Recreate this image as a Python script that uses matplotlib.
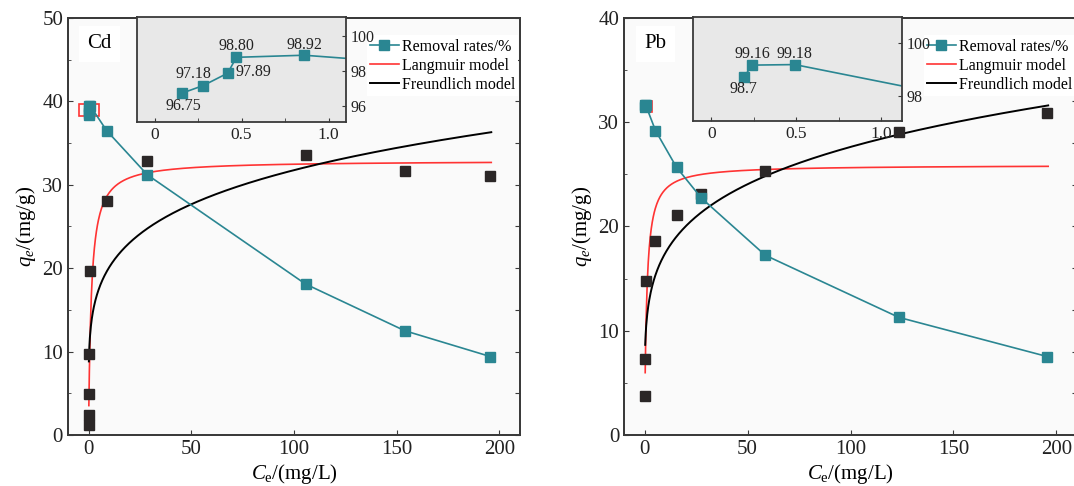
import numpy as np
import matplotlib.pyplot as plt
from matplotlib.patches import Rectangle
from matplotlib.ticker import MultipleLocator

plt.rcParams['font.family'] = ['Liberation Serif', 'DejaVu Serif']
plt.rcParams['mathtext.fontset'] = 'custom'
plt.rcParams['mathtext.rm'] = 'Liberation Serif'
plt.rcParams['mathtext.it'] = 'Liberation Serif:italic'

teal = '#2a8692'
red = '#ff3333'
dark = '#2b2727'
spine_c = '#3a3a3a'

# ---- Cd ----
cd_ce = [0.16, 0.28, 0.42, 0.47, 0.86, 8.8, 28.6, 105.6, 153.9, 195.6]
cd_qe = [1.2, 2.4, 4.9, 9.7, 19.7, 28.0, 32.9, 33.6, 31.6, 31.1]
cd_rate = [96.75, 97.18, 97.89, 98.80, 98.92, 93.0, 82.4, 56.2, 45.0, 38.8]
cd_lang = (32.9, 0.75)    # qm, KL
cd_freu = (12.7, 0.199)   # KF, 1/n
cd_tags = ['96.75', '97.18', '97.89', '98.80', '98.92']

# ---- Pb ----
pb_ce = [0.19, 0.24, 0.49, 5.3, 15.5, 27.6, 58.6, 123.5, 195.6]
pb_qe = [3.7, 7.3, 14.8, 18.6, 21.1, 23.1, 25.3, 29.1, 30.9]
pb_rate = [98.7, 99.16, 99.18, 93.0, 84.2, 76.8, 63.1, 48.2, 38.8]
pb_lang = (25.9, 1.0)
pb_freu = (11.0, 0.2)
pb_tags = ['98.7', '99.16', '99.18']


def style(a, size=15):
    for s in a.spines.values():
        s.set_color(spine_c)
        s.set_linewidth(1.3)
    a.tick_params(direction='in', which='both', labelsize=size, colors=spine_c,
                  labelcolor='#222222')


def panel(rect, inset_rect, ce, qe, rate, lang, freu, tags, offs, ymax, cmin,
          name, box, in_xlim, in_ylim, in_yticks):
    ax = fig.add_axes(rect)
    ax.set_facecolor('#fafafa')
    x = np.linspace(cmin, 196, 800)
    qm, kl = lang
    kf, n1 = freu
    l1, = ax.plot(x, qm * kl * x / (1 + kl * x), color=red, lw=1.2,
                  label='Langmuir model')
    l2, = ax.plot(x, kf * x ** n1, color='black', lw=1.4,
                  label='Freundlich model')
    ax.plot(ce, qe, 's', color=dark, ms=7, ls='none')
    ax.set_xlim(-10, 210)
    ax.set_ylim(0, ymax)
    ax.xaxis.set_major_locator(MultipleLocator(50))
    ax.yaxis.set_major_locator(MultipleLocator(10))
    ax.yaxis.set_minor_locator(MultipleLocator(5))
    ax.set_xlabel(r'$C_{\rm e}$/(mg/L)', fontsize=15, labelpad=2)
    ax.set_ylabel(r'$q_e$/(mg/g)', fontsize=15, labelpad=3)
    style(ax)
    ax.text(0.069, 0.938, name, transform=ax.transAxes, fontsize=15,
            ha='center', va='center',
            bbox=dict(facecolor='white', edgecolor='none', pad=6))
    ax.add_patch(Rectangle(box[:2], box[2], box[3], fill=False,
                           edgecolor=red, lw=1.2, zorder=10))

    tw = ax.twinx()
    l0, = tw.plot(ce, rate, '-s', color=teal, lw=1.2, ms=6.5,
                  label='Removal rates/%')
    tw.set_ylim(20, 120)
    tw.yaxis.set_major_locator(MultipleLocator(10))
    style(tw)
    tw.tick_params(labelright=False)
    tw.legend(handles=[l0, l1, l2], loc='upper right',
              bbox_to_anchor=(1.0, 0.962), fontsize=11.5, frameon=True,
              fancybox=False, edgecolor='none', facecolor='white',
              framealpha=1, handlelength=1.8, handletextpad=0.2,
              borderpad=0.2, labelspacing=0.2, borderaxespad=0.1)

    ins = fig.add_axes(inset_rect)
    ins.set_facecolor('#e8e8e8')
    ins.plot(ce, rate, '-s', color=teal, lw=1.2, ms=6.5)
    ins.set_xlim(*in_xlim)
    ins.set_ylim(*in_ylim)
    ins.set_xticks([0, 0.5, 1.0], ['0', '0.5', '1.0'])
    ins.xaxis.set_minor_locator(MultipleLocator(0.25))
    ins.set_yticks(in_yticks)
    ins.yaxis.tick_right()
    style(ins, 11.5)
    ins.tick_params(axis='x', labelsize=12.5)
    ins.tick_params(which='both', left=False, right=True, length=3)
    for t, (dx, dy) in zip(tags, offs):
        i = tags.index(t)
        ins.annotate(t, (ce[i], rate[i]), xytext=(dx, dy),
                     textcoords='offset points', ha='center', va='center',
                     fontsize=11.5, color='#222222')
    return ax


fig = plt.figure(figsize=(10.74, 4.86), dpi=100)

panel([0.0633, 0.105, 0.4209, 0.858], [0.1278, 0.7496, 0.1943, 0.2148],
      cd_ce, cd_qe, cd_rate, cd_lang, cd_freu, cd_tags,
      [(0.7, -9.4), (-7.2, 8.4), (18.4, 0.7), (0, 8.4), (0, 7.5)],
      50, 0.16, 'Cd', (-4.4, 38.3, 9.3, 1.4),
      (-0.1, 1.1), (95.1, 101.1), [96, 98, 100])

panel([0.581, 0.105, 0.4218, 0.858], [0.645, 0.7516, 0.1946, 0.2126],
      pb_ce, pb_qe, pb_rate, pb_lang, pb_freu, pb_tags,
      [(0, -8.4), (0, 8.1), (0, 7.4)],
      40, 0.3, 'Pb', (-1.9, 31.0, 5.3, 1.0),
      (-0.11, 1.12), (97.05, 100.97), [98, 100])

fig.savefig('out.png', dpi=100)
